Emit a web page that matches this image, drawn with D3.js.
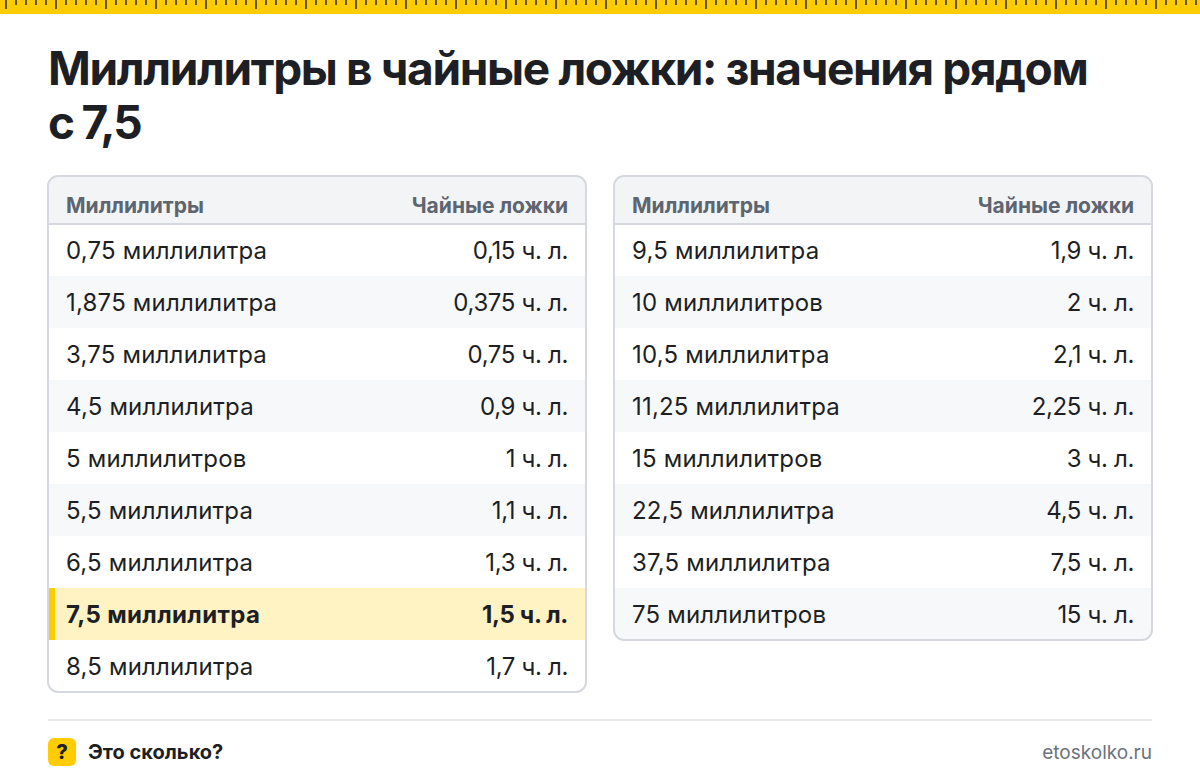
<!DOCTYPE html>
<html>
<head>
<meta charset="utf-8">
<script src="https://cdn.jsdelivr.net/npm/d3@7"></script>
<style>
  html, body { margin: 0; padding: 0; background: #fff; }
  svg { display: block; font-family: Inter, sans-serif; }
</style>
</head>
<body>
<div id="chart"></div>
<script>
const titleLines = ["Миллилитры в чайные ложки: значения рядом", "с 7,5"];
const headers = ["Миллилитры", "Чайные ложки"];

const leftMl = ["0,75 миллилитра", "1,875 миллилитра", "3,75 миллилитра", "4,5 миллилитра", "5 миллилитров", "5,5 миллилитра", "6,5 миллилитра", "7,5 миллилитра", "8,5 миллилитра"];
const leftTsp = ["0,15 ч. л.", "0,375 ч. л.", "0,75 ч. л.", "0,9 ч. л.", "1 ч. л.", "1,1 ч. л.", "1,3 ч. л.", "1,5 ч. л.", "1,7 ч. л."];
const rightMl = ["9,5 миллилитра", "10 миллилитров", "10,5 миллилитра", "11,25 миллилитра", "15 миллилитров", "22,5 миллилитра", "37,5 миллилитра", "75 миллилитров"];
const rightTsp = ["1,9 ч. л.", "2 ч. л.", "2,1 ч. л.", "2,25 ч. л.", "3 ч. л.", "4,5 ч. л.", "7,5 ч. л.", "15 ч. л."];
const highlighted = "7,5 миллилитра";

const footerLeft = "Это сколько?";
const footerRight = "etoskolko.ru";

const width = 1200;
const height = 784;
const ink = "#1d1f24";
const yellow = "#ffcc00";

const svg = d3.select("#chart").append("svg")
  .attr("width", width)
  .attr("height", height)
  .attr("viewBox", `0 0 ${width} ${height}`);

svg.append("rect").attr("width", width).attr("height", height).attr("fill", "#fff");

// ruler strip along the top edge
svg.append("rect").attr("width", width).attr("height", 14).attr("fill", yellow);
svg.append("g").selectAll("rect")
  .data(d3.range(6, width, 10))
  .join("rect")
  .attr("x", (d) => d - 1)
  .attr("y", 0)
  .attr("width", 2)
  .attr("height", (d) => (d - 6) % 50 === 0 ? 9 : 5)
  .attr("fill", "#5f5318");

svg.append("g").selectAll("text")
  .data(titleLines)
  .join("text")
  .attr("x", 48)
  .attr("y", (d, i) => 85 + i * 54)
  .attr("fill", ink)
  .attr("font-size", 46)
  .attr("font-weight", 700)
  .attr("letter-spacing", (d, i) => i ? "-2.2px" : "-1.35px")
  .text((d) => d);

function drawTable(left, ml, tsp) {
  const cardWidth = 538;
  const headerHeight = 48;
  const rowHeight = 52;
  const top = 176;
  const bodyTop = top + headerHeight;
  const cardHeight = headerHeight + ml.length * rowHeight;
  const rows = ml.map((name, i) => ({ name, value: tsp[i], index: i }));

  const y = d3.scaleBand()
    .domain(d3.range(ml.length))
    .range([bodyTop, bodyTop + ml.length * rowHeight]);

  const clipId = `clip-${left}`;
  svg.append("clipPath").attr("id", clipId)
    .append("rect")
    .attr("x", left).attr("y", top)
    .attr("width", cardWidth).attr("height", cardHeight)
    .attr("rx", 10);

  const card = svg.append("g").attr("clip-path", `url(#${clipId})`);

  card.append("rect")
    .attr("x", left).attr("y", top)
    .attr("width", cardWidth).attr("height", headerHeight)
    .attr("fill", "#f3f4f6");
  card.append("rect")
    .attr("x", left).attr("y", bodyTop - 1)
    .attr("width", cardWidth).attr("height", 2)
    .attr("fill", "#d5d9df");

  card.selectAll(".row")
    .data(rows)
    .join("rect")
    .attr("class", "row")
    .attr("x", left)
    .attr("y", (d) => y(d.index) + (d.index === 0 ? 1 : 0))
    .attr("width", cardWidth)
    .attr("height", (d) => y.bandwidth() - (d.index === 0 ? 1 : 0))
    .attr("fill", (d) => d.name === highlighted ? "#fff3c4" : d.index % 2 ? "#f7f8fa" : "#fff");

  card.selectAll(".mark")
    .data(rows.filter((d) => d.name === highlighted))
    .join("rect")
    .attr("class", "mark")
    .attr("x", left)
    .attr("y", (d) => y(d.index))
    .attr("width", 7)
    .attr("height", y.bandwidth())
    .attr("fill", yellow);

  svg.append("rect")
    .attr("x", left).attr("y", top)
    .attr("width", cardWidth).attr("height", cardHeight)
    .attr("rx", 10)
    .attr("fill", "none")
    .attr("stroke", "#d5d9df")
    .attr("stroke-width", 2);

  const head = svg.append("g")
    .attr("fill", "#5d6570")
    .attr("font-size", 21)
    .attr("font-weight", 700);
  head.append("text").attr("x", left + 18).attr("y", 213).text(headers[0]);
  head.append("text").attr("x", left + cardWidth - 18).attr("y", 213)
    .attr("text-anchor", "end").text(headers[1]);

  const cells = svg.append("g").selectAll("g")
    .data(rows)
    .join("g")
    .attr("transform", (d) => `translate(0,${y(d.index) + 35})`)
    .attr("fill", ink)
    .attr("font-size", 24)
    .attr("font-weight", (d) => d.name === highlighted ? 700 : 400);

  cells.append("text")
    .attr("x", left + 18)
    .attr("letter-spacing", (d) => d.name === highlighted ? "0.35px" : "0.2px")
    .text((d) => d.name);
  cells.append("text")
    .attr("x", left + cardWidth - 18)
    .attr("text-anchor", "end")
    .attr("letter-spacing", "-0.35px")
    .text((d) => d.value);
}

drawTable(48, leftMl, leftTsp);
drawTable(614, rightMl, rightTsp);

// footer
svg.append("rect")
  .attr("x", 48).attr("y", 719)
  .attr("width", 1104).attr("height", 2)
  .attr("fill", "#e6e8ec");

svg.append("rect")
  .attr("x", 48).attr("y", 738)
  .attr("width", 28).attr("height", 28)
  .attr("rx", 6)
  .attr("fill", yellow);
svg.append("text")
  .attr("x", 62).attr("y", 759)
  .attr("text-anchor", "middle")
  .attr("fill", ink)
  .attr("font-size", 20)
  .attr("font-weight", 800)
  .text("?");
svg.append("text")
  .attr("x", 88).attr("y", 759)
  .attr("fill", ink)
  .attr("font-size", 20)
  .attr("font-weight", 700)
  .text(footerLeft);
svg.append("text")
  .attr("x", 1152).attr("y", 759)
  .attr("text-anchor", "end")
  .attr("fill", "#6b7280")
  .attr("font-size", 19)
  .text(footerRight);
</script>
</body>
</html>
